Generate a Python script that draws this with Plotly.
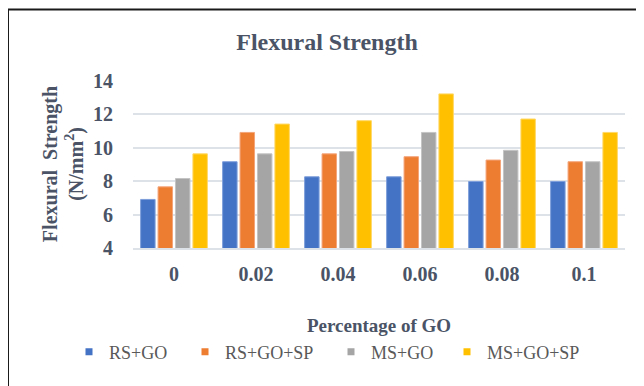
import plotly.graph_objects as go

categories = ["0", "0.02", "0.04", "0.06", "0.08", "0.1"]
rs_go = [6.9, 9.15, 8.25, 8.25, 7.97, 7.97]
rs_go_sp = [7.65, 10.9, 9.62, 9.45, 9.25, 9.15]
ms_go = [8.15, 9.62, 9.76, 10.9, 9.83, 9.15]
ms_go_sp = [9.62, 11.4, 11.6, 13.2, 11.7, 10.9]

series_names = ["RS+GO", "RS+GO+SP", "MS+GO", "MS+GO+SP"]
series_values = [rs_go, rs_go_sp, ms_go, ms_go_sp]
fill_colors = ["#4472C4", "#ED7D31", "#A5A5A5", "#FFC000"]
edge_colors = ["#7d9ddb", "#f4a57a", "#c4c4c4", "#ffd866"]
legend_widths = [71, 101, 71, 95]

FONT = "Liberation Serif, Times New Roman, serif"
TXT = "#4a5466"

# page body adds an 8px offset; layout numbers below are in figure pixels
L, T, PW, PH = 125, 72, 492, 168

fig = go.Figure()
for name, vals, fc, ec in zip(series_names, series_values, fill_colors, edge_colors):
    fig.add_trace(go.Bar(
        x=categories, y=vals, name=name, marker=dict(color=fc, line=dict(color=ec, width=1)),
        showlegend=False, legendgroup=name,
    ))
for name, fc, lw in zip(series_names, fill_colors, legend_widths):
    fig.add_trace(go.Scatter(
        x=[None], y=[None], mode="markers", name=name, legendgroup=name,
        legendwidth=lw,
        marker=dict(symbol="square", size=7, color=fc),
    ))

fig.update_layout(
    width=644, height=386,
    margin=dict(l=L, r=644 - L - PW, t=T, b=386 - T - PH),
    paper_bgcolor="white", plot_bgcolor="white",
    bargap=0.15, bargroupgap=0.17, barmode="group",
    title=dict(text="<b>Flexural Strength</b>", x=319/644, xanchor="center",
               y=1 - 34/386, yanchor="middle",
               font=dict(family=FONT, size=24, color=TXT)),
    font=dict(family=FONT, color=TXT),
    legend=dict(orientation="h", x=(61 - L) / PW, xanchor="left",
                y=-(104) / PH, yanchor="middle",
                font=dict(family=FONT, size=18, color="#595959"),
                itemwidth=30, bgcolor="rgba(0,0,0,0)"),
    showlegend=True,
)
fig.update_yaxes(
    range=[4, 14.03], tickvals=[4, 6, 8, 10, 12, 14],
    ticktext=[f"<b>{v}</b>" for v in [4, 6, 8, 10, 12, 14]],
    tickfont=dict(family=FONT, size=20, color=TXT),
    showgrid=True, gridcolor="#dde2e8", gridwidth=1.5,
    zeroline=False, showline=False, ticks="", ticklabelstandoff=19,
    title=dict(text="<b>Flexural  Strength<br>(N/mm<sup>2</sup>)</b>",
               font=dict(family=FONT, size=20, color=TXT), standoff=4),
)
fig.update_xaxes(
    type="category", tickfont=dict(family=FONT, size=20, color=TXT),
    ticktext=[f"<b>{c}</b>" for c in categories], tickvals=categories,
    showline=True, linecolor="#dde2e8", linewidth=1.5,
    ticks="", ticklabelstandoff=7,
    title=dict(text="<b>Percentage of GO</b>",
               font=dict(family=FONT, size=19, color=TXT), standoff=35),
)
fig.add_shape(type="rect", xref="paper", yref="paper",
              x0=(0 - L) / PW, x1=(700 - L) / PW,
              y0=-(420 - T - PH) / PH, y1=(T + PH - 1.5) / PH,
              line=dict(color="#1a1a1a", width=2), fillcolor="rgba(0,0,0,0)", layer="below")

fig.write_html("out.html")
